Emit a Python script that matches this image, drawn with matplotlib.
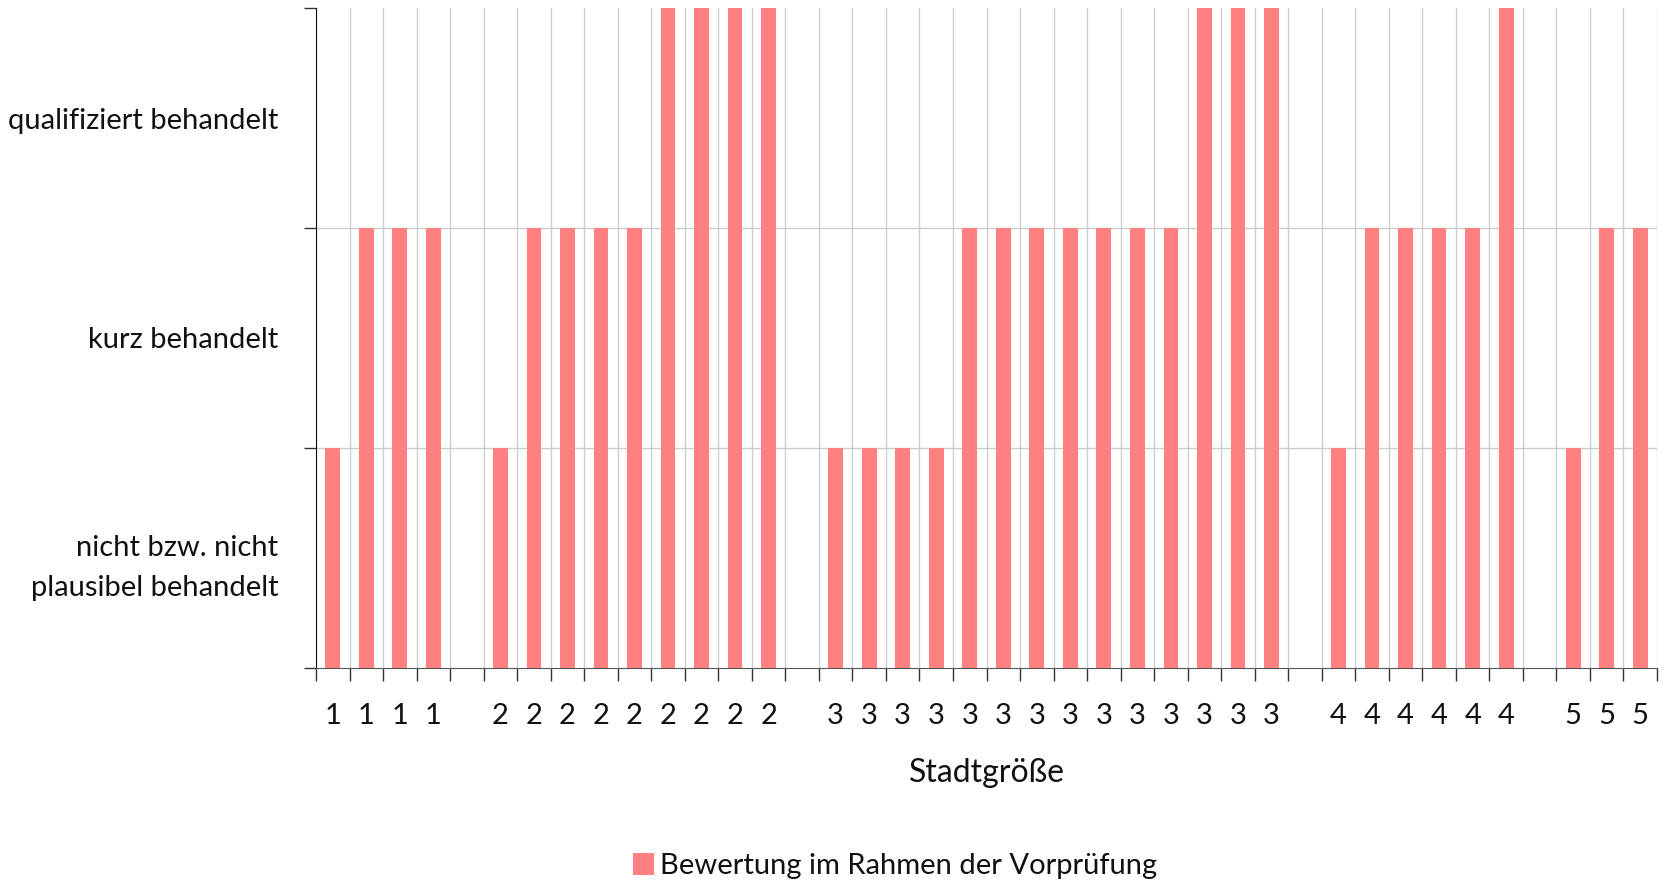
import numpy as np
import matplotlib
matplotlib.use('Agg')
import matplotlib.pyplot as plt

plt.rcParams['font.family'] = ['Lato', 'DejaVu Sans']
plt.rcParams['text.color'] = '#111111'

# Stadtgröße je Stadt ('' = Lücke zwischen den Gruppen)
stadtgroesse = ['1', '1', '1', '1', '',
                '2', '2', '2', '2', '2', '2', '2', '2', '2', '',
                '3', '3', '3', '3', '3', '3', '3', '3', '3', '3', '3', '3', '3', '3', '',
                '4', '4', '4', '4', '4', '4', '',
                '5', '5', '5']
# Bewertung: 1 = nicht/nicht plausibel, 2 = kurz, 3 = qualifiziert, 0 = Lücke
bewertung = [1, 2, 2, 2, 0,
             1, 2, 2, 2, 2, 3, 3, 3, 3, 0,
             1, 1, 1, 1, 2, 2, 2, 2, 2, 2, 2, 3, 3, 3, 0,
             1, 2, 2, 2, 2, 3, 0,
             1, 2, 2]
stufen = ['nicht bzw. nicht\nplausibel behandelt', 'kurz behandelt', 'qualifiziert behandelt']

farbe = '#ff8080'

fig = plt.figure(figsize=(16.67, 8.85), dpi=100)
ax = fig.add_axes([316 / 1667, 1 - 668 / 885, (1657 - 316) / 1667, (668 - 8) / 885])

x = np.arange(len(bewertung))
ax.bar(x, bewertung, width=0.44, color=farbe, zorder=3,
       label='Bewertung im Rahmen der Vorprüfung')

ax.set_xlim(-0.5, len(bewertung) - 0.5)
ax.set_ylim(0, 3)

# Gitter: senkrecht an den Grenzen, waagrecht bei 1, 2
for b in np.arange(-0.5, len(bewertung) + 0.5):
    ax.axvline(b, color='#cccccc', lw=1, zorder=1)
for h in [1, 2]:
    ax.axhline(h, color='#cccccc', lw=1, zorder=1)

# x-Achse: Striche an Grenzen, Beschriftung in der Mitte
ax.set_xticks(np.arange(-0.5, len(bewertung) + 0.5))
ax.set_xticklabels([])
ax.set_xticks(x, minor=True)
ax.set_xticklabels(stadtgroesse, minor=True)
ax.tick_params(axis='x', which='major', length=9, width=1, color='#333333', direction='out')
ax.tick_params(axis='x', which='minor', length=0, pad=25, labelsize=21, labelcolor='#111111')

# y-Achse
ax.set_yticks([0, 1, 2, 3])
ax.set_yticklabels([])
ax.set_yticks([0.5, 1.5, 2.5], minor=True)
ax.set_yticklabels(stufen, minor=True, ha='right')
ax.tick_params(axis='y', which='major', length=9, width=1, color='#333333', direction='out')
ax.tick_params(axis='y', which='minor', length=0, pad=27, labelsize=21, labelcolor='#111111')
for lab in ax.get_yticklabels(minor=True):
    lab.set_linespacing(1.7)

for s in ['top', 'right']:
    ax.spines[s].set_visible(False)
ax.spines['left'].set_color('#111111')
ax.spines['bottom'].set_color('#555555')
ax.spines['left'].set_zorder(4)
ax.spines['bottom'].set_zorder(4)

ax.set_xlabel('Stadtgröße', fontsize=23, labelpad=21, color='#111111')

fig.legend(loc='center', bbox_to_anchor=(895 / 1667, 1 - 866 / 885), frameon=False,
           fontsize=21, handlelength=0.75, handleheight=0.75, handletextpad=0.2)

fig.savefig('out.png', dpi=100)
